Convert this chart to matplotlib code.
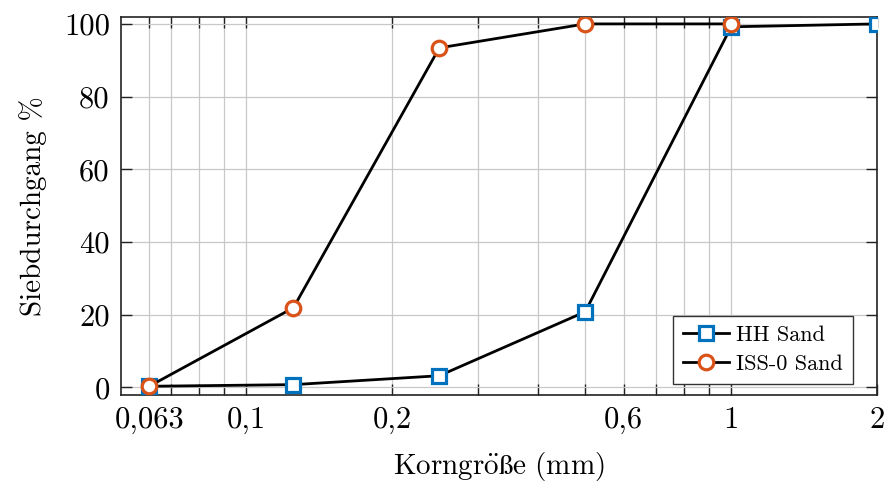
import matplotlib
matplotlib.use("Agg")
import matplotlib.pyplot as plt
from matplotlib.ticker import FixedLocator, FixedFormatter, NullFormatter

plt.rcParams['font.family'] = ['cmr10', 'DejaVu Serif']
plt.rcParams['mathtext.fontset'] = 'cm'
plt.rcParams['axes.unicode_minus'] = False
plt.rcParams['axes.formatter.use_mathtext'] = True

sizes = [0.063, 0.125, 0.25, 0.5, 1, 2]
hh_sand = [0.3, 0.75, 3.2, 20.8, 99.2, 100]
iss_sizes = [0.063, 0.125, 0.25, 0.5, 1]
iss_sand = [0.3, 21.9, 93.4, 100, 100]

major_ticks = [0.063, 0.1, 0.2, 0.6, 1, 2]
major_labels = ["0,063", "0,1", "0,2", "0,6", "1", "2"]
minor_ticks = [0.07, 0.08, 0.09, 0.3, 0.4, 0.5, 0.7, 0.8, 0.9]
y_ticks = [0, 20, 40, 60, 80, 100]

fig = plt.figure(figsize=(8.85, 4.83), dpi=100)
ax = fig.add_axes([0.1367, 0.1822, 0.991 - 0.1367, 0.9648 - 0.1822])

ax.plot(sizes, hh_sand, color='black', lw=2.0, marker='s', ms=9.5,
        mfc='white', mec='#0072BD', mew=2.3, label='HH Sand', zorder=3)
ax.plot(iss_sizes, iss_sand, color='black', lw=2.0, marker='o', ms=10.5,
        mfc='white', mec='#D95319', mew=2.3, label='ISS-0 Sand', zorder=4)

ax.set_xscale('log')
ax.set_xlim(0.0551, 2)
ax.set_ylim(-2.1, 101.9)
ax.xaxis.set_major_locator(FixedLocator(major_ticks))
ax.xaxis.set_major_formatter(FixedFormatter(major_labels))
ax.xaxis.set_minor_locator(FixedLocator(minor_ticks))
ax.xaxis.set_minor_formatter(NullFormatter())
ax.set_yticks(y_ticks)
ax.set_yticklabels([str(v) for v in y_ticks])

ax.grid(True, which='both', color='#c8c8c8', lw=0.9)
ax.set_axisbelow(True)

ax.tick_params(which='both', direction='in', length=8, width=1,
               top=True, right=True, labelsize=22, color='#222222')
ax.tick_params(axis='x', which='major', pad=8)
ax.tick_params(axis='y', which='major', pad=8)

for s in ax.spines.values():
    s.set_linewidth(1.2)
    s.set_color('#222222')

ax.set_xlabel(r'$\mathrm{Korngr\ddot{o}\ss e\ (mm)}$', fontsize=21, labelpad=12)
ax.set_ylabel('Siebdurchgang %', fontsize=21, labelpad=12)

leg = ax.legend(loc='lower right', fontsize=16, frameon=True, fancybox=False,
                edgecolor='#333333', framealpha=1, borderpad=0.45,
                handlelength=2.1, handletextpad=0.3, labelspacing=0.4,
                borderaxespad=0, bbox_to_anchor=(0.968, 0.03))
leg.get_frame().set_linewidth(1.0)

fig.savefig('out.png', dpi=100)
